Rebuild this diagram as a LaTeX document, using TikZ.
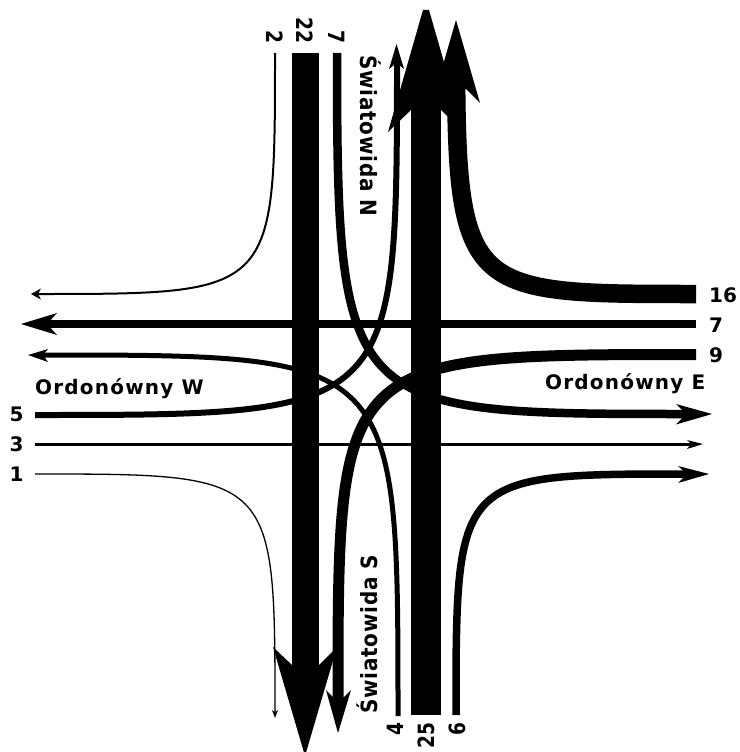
\documentclass[tikz,border=0pt]{standalone}
\usepackage{fontspec}
\setmainfont{DejaVu Sans}
\newfontfamily\spacedh[LetterSpace=6]{DejaVu Sans}
\newfontfamily\spacedv[LetterSpace=4]{DejaVu Sans}
\tikzset{
  lane/.style={draw=black,line cap=butt,line join=miter},
  tiphead/.style={fill=black,draw=none},
  num/.style={font=\fontsize{20}{20}\selectfont\bfseries,inner sep=0pt,text=black},
  street/.style={font=\fontsize{20}{20}\selectfont\spacedh\bfseries,inner sep=0pt,text=black},
  vstreet/.style={font=\fontsize{20}{20}\selectfont\spacedv\bfseries,inner sep=0pt,text=black},
}
\begin{document}
\begin{tikzpicture}[x=1pt,y=-1pt]
\useasboundingbox (0,0) rectangle (739,752);
% straight through lanes
\draw[lane,line width=26.5pt] (305.5,53) -- (305.5,680);
\draw[lane,line width=30pt] (426,715) -- (426,100);
\draw[lane,line width=8pt] (696,324) -- (45,324);
\draw[lane,line width=3pt] (35,444) -- (692,444);
% turning lanes
\draw[lane,line width=2pt] (275,53) .. controls (275,294) and (275,294) .. (38,294);
\draw[lane,line width=8.5pt] (337,53) .. controls (337,414) and (345,414) .. (690,414);
\draw[lane,line width=18.5pt] (696,294) .. controls (476.6,294) and (457.8,294) .. (456.15,84.8);
\draw[lane,line width=11pt] (696,354.5) .. controls (338,354.5) and (338,354.5) .. (338,700);
\draw[lane,line width=6pt] (35,415) .. controls (397,415) and (397,415) .. (397,60);
\draw[lane,line width=1.3pt] (35,474) .. controls (275,474) and (275,474) .. (275,713);
\draw[lane,line width=5pt] (398,716) .. controls (398,355) and (398,355) .. (42,355);
\draw[lane,line width=7.5pt] (456,715) .. controls (456,474) and (456,474) .. (688,474);
% arrow heads
\fill[tiphead] (305,756) -- (273,647) -- (292,665) -- (319,665) -- (337,647) -- cycle;
\fill[tiphead] (423,10) -- (429,10) -- (464,132) -- (441,110) -- (411,110) -- (388,132) -- cycle;
\fill[tiphead] (456,20) -- (480,103) -- (466,89) -- (447,89) -- (432,103) -- cycle;
\fill[tiphead] (21,324) -- (57,313) -- (47,324) -- (57,335) -- cycle;
\fill[tiphead] (31,294) -- (41,288.5) -- (38,294) -- (41,299.5) -- cycle;
\fill[tiphead] (28,355) -- (48,349) -- (43,355) -- (48,362) -- cycle;
\fill[tiphead] (712,414) -- (676,404) -- (686,414) -- (676,424.5) -- cycle;
\fill[tiphead] (703,444) -- (687,440) -- (691,444) -- (687,449) -- cycle;
\fill[tiphead] (709,474) -- (678,466) -- (687,474) -- (678,483) -- cycle;
\fill[tiphead] (338,733) -- (326,690) -- (333,697) -- (344,697) -- (351,690) -- cycle;
\fill[tiphead] (396.5,44) -- (404,69) -- (399,65) -- (394,65) -- (389,69) -- cycle;
\fill[tiphead] (275,718) -- (272,710) -- (275,712) -- (278,710) -- cycle;
% numbers
\node[num,anchor=west] (n16) at (709,295) {16};
\node[num,anchor=west] (n7e) at (709,325) {7};
\node[num,anchor=west] (n9) at (709,355) {9};
\node[num,anchor=west] (n5) at (9.5,414) {5};
\node[num,anchor=west] (n3) at (9.5,444) {3};
\node[num,anchor=west] (n1) at (9.5,474) {1};
\node[num,rotate=-90,xscale=.93,yscale=1.12,anchor=east] (n2) at (275,43.5) {2};
\node[num,rotate=-90,xscale=.93,yscale=1.12,anchor=east] (n22) at (305,43.5) {22};
\node[num,rotate=-90,xscale=.93,yscale=1.12,anchor=east] (n7n) at (337,43.5) {7};
\node[num,rotate=90,xscale=.93,yscale=1.12,anchor=east] (n4) at (395.5,722.5) {4};
\node[num,rotate=90,xscale=.93,yscale=1.12,anchor=east] (n25) at (426,722.5) {25};
\node[num,rotate=90,xscale=.93,yscale=1.12,anchor=east] (n6) at (457,722.5) {6};
% street names
\node[street,anchor=base west] (ow) at (35,394) {Ordonówny W};
\node[street,anchor=base west] (oe) at (545,389) {Ordonówny E};
\node[vstreet,rotate=-90,yscale=1.12,anchor=base west] (sn) at (360.5,55) {Światowida N};
\node[vstreet,rotate=90,yscale=1.12,anchor=base west] (ss) at (377,714) {Światowida S};
\end{tikzpicture}
\end{document}
